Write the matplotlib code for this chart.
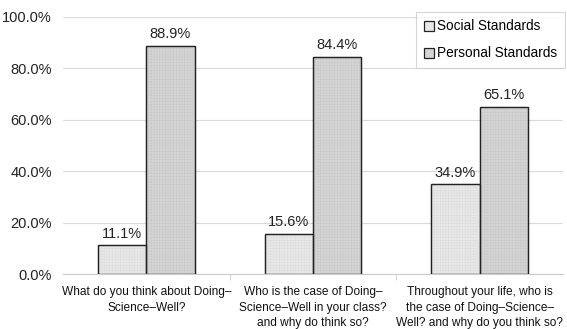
import matplotlib
matplotlib.use("Agg")
import matplotlib.pyplot as plt
import numpy as np

categories = ["What do you think about Doing\u2013\nScience\u2013Well?",
              "Who is the case of Doing\u2013\nScience\u2013Well in your class?\nand why do think so?",
              "Throughout your life, who is\nthe case of Doing\u2013Science\u2013\nWell? and why do you think so?"]
social = [11.1, 15.6, 34.9]
personal = [88.9, 84.4, 65.1]
series_names = ["Social Standards", "Personal Standards"]
yticks = [0, 20, 40, 60, 80, 100]

plt.rcParams['font.family'] = ['Liberation Sans', 'DejaVu Sans']
plt.rcParams['hatch.linewidth'] = 0.3

fig = plt.figure(figsize=(5.67, 3.29), dpi=100)
ax = fig.add_axes([63/567, 1-274/329, 500/567, (274-17)/329])

x = np.arange(len(categories))
w = 0.29
b1 = ax.bar(x - w/2, social, w, color='#e8e8e8', edgecolor='#222222', linewidth=0.9,
            label=series_names[0], zorder=3)
b2 = ax.bar(x + w/2, personal, w, color='#d4d4d4', edgecolor='#222222', linewidth=0.9,
            label=series_names[1], zorder=3)
# faint texture overlay
ax.bar(x - w/2, social, w, fill=False, hatch='++++++', edgecolor='#dadada', linewidth=0, zorder=4)
ax.bar(x + w/2, personal, w, fill=False, hatch='++++++', edgecolor='#c6c6c6', linewidth=0, zorder=4)
ax.bar(x - w/2, social, w, fill=False, edgecolor='#222222', linewidth=0.9, zorder=5)
ax.bar(x + w/2, personal, w, fill=False, edgecolor='#222222', linewidth=0.9, zorder=5)

for bars, vals in ((b1, social), (b2, personal)):
    for r, v in zip(bars, vals):
        ax.text(r.get_x() + r.get_width()/2, v + 1.8, f"{v:.1f}%", ha='center', va='bottom',
                fontsize=10.5, color='#222222')

ax.set_xlim(-0.5, 2.5)
ax.set_ylim(0, 100)
ax.set_yticks(yticks)
ax.set_yticklabels([f"{t:.1f}%" for t in yticks], fontsize=10.5, color='#222222')
ax.yaxis.grid(True, color='#d9d9d9', linewidth=0.8, zorder=0)
ax.set_xticks(x)
ax.set_xticklabels(categories, fontsize=8.6, linespacing=1.38, color='#111111')
ax.set_xticks([0.5, 1.5], minor=True)
ax.tick_params(axis='x', which='major', length=0, pad=9)
ax.tick_params(axis='x', which='minor', length=4, color='#cccccc')
ax.tick_params(axis='y', length=0, pad=8)
for s in ['top', 'right', 'left']:
    ax.spines[s].set_visible(False)
ax.spines['bottom'].set_color('#cccccc')

leg = ax.legend(handles=[b1, b2], loc='upper right', bbox_to_anchor=(1.004, 1.02), fontsize=9.8,
                frameon=True, fancybox=False, edgecolor='#cccccc', handlelength=0.75,
                handleheight=0.75, handletextpad=0.25, borderpad=0.55, labelspacing=0.95,
                borderaxespad=0)
leg.get_frame().set_linewidth(0.8)

fig.savefig("out.png", dpi=100)
